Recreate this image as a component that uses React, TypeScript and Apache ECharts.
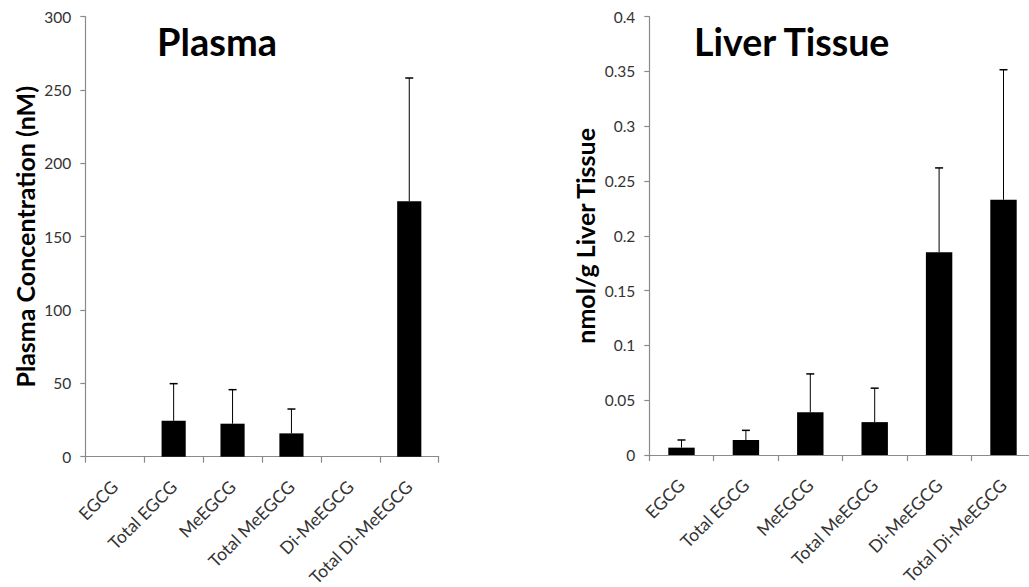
import React, { useEffect, useRef } from "react";
import * as echarts from "echarts";

const categories = ["EGCG", "Total EGCG", "MeEGCG", "Total MeEGCG", "Di-MeEGCG", "Total Di-MeEGCG"];
const plasmaMean = [0, 24.5, 22.5, 15.9, 0, 174.1];
const plasmaSD = [0, 25.3, 23.2, 16.6, 0, 84.1];
const liverMean = [0.0067, 0.0137, 0.039, 0.03, 0.185, 0.233];
const liverSD = [0.007, 0.0088, 0.035, 0.031, 0.077, 0.1186];
const plasmaTicks = { min: 0, max: 300, interval: 50 };
const liverTicks = { min: 0, max: 0.4, interval: 0.05 };

const FONT = "Lato";
const AXIS_COLOR = "#8a8a8a";
const LABEL_COLOR = "#333333";

function errRender(params: any, api: any) {
  const idx = api.value(0);
  const mean = api.value(1);
  const sd = api.value(2);
  if (!sd) return null;
  const base = api.coord([idx, mean]);
  const top = api.coord([idx, mean + sd]);
  return {
    type: "group",
    children: [
      { type: "line", shape: { x1: base[0], y1: base[1], x2: top[0], y2: top[1] }, style: { stroke: "#000", lineWidth: 1 } },
      { type: "line", shape: { x1: top[0] - 4, y1: top[1], x2: top[0] + 4, y2: top[1] }, style: { stroke: "#000", lineWidth: 1.5 } },
    ],
  };
}

export default function App() {
  const ref = useRef<HTMLDivElement>(null);
  useEffect(() => {
    document.body.style.margin = "0";
    const chart = echarts.init(ref.current!, null, { renderer: "svg" });
    const xAxisBase = (gridIndex: number) => ({
      type: "category",
      gridIndex,
      data: categories,
      boundaryGap: true,
      axisLine: { lineStyle: { color: AXIS_COLOR, width: 1.2 } },
      axisTick: { show: true, length: 6, alignWithLabel: false, lineStyle: { color: AXIS_COLOR, width: 1.2 } },
      axisLabel: { rotate: 45, interval: 0, margin: 27, fontFamily: FONT, fontSize: 17.5, color: LABEL_COLOR },
      splitLine: { show: false },
    });
    const yAxisBase = (gridIndex: number, ticks: any, name: string, nameGap: number, nameSize: number) => ({
      type: "value",
      gridIndex,
      ...ticks,
      name,
      nameLocation: "middle",
      nameGap,
      nameTextStyle: { fontFamily: FONT, fontWeight: "bold", fontSize: nameSize, color: "#000" },
      axisLine: { show: true, lineStyle: { color: AXIS_COLOR, width: 1.2 } },
      axisTick: { show: true, length: 5, lineStyle: { color: AXIS_COLOR, width: 1.2 } },
      axisLabel: { margin: 14, fontFamily: FONT, fontSize: 15.5, color: LABEL_COLOR },
      splitLine: { show: false },
    });
    chart.setOption({
      animation: false,
      backgroundColor: "#fff",
      title: [
        { text: "Plasma", left: 152, top: 17, textStyle: { fontFamily: FONT, fontWeight: "bold", fontSize: 38, color: "#000" } },
        { text: "Liver Tissue", left: 689, top: 17, textStyle: { fontFamily: FONT, fontWeight: "bold", fontSize: 37.5, color: "#000" } },
      ],
      grid: [
        { left: 85.3, right: 590.3, top: 16.7, bottom: 130.3, outerBoundsMode: "none", containLabel: false },
        { left: 649.3, right: -6.7, top: 16.7, bottom: 132, outerBoundsMode: "none", containLabel: false },
      ],
      xAxis: [xAxisBase(0), xAxisBase(1)],
      yAxis: [
        yAxisBase(0, plasmaTicks, "Plasma Concentration (nM)", 48, 25),
        yAxisBase(1, liverTicks, "nmol/g Liver Tissue", 52, 25),
      ],
      series: [
        { type: "bar", xAxisIndex: 0, yAxisIndex: 0, data: plasmaMean, barWidth: "41%", itemStyle: { color: "#000" } },
        { type: "bar", xAxisIndex: 1, yAxisIndex: 1, data: liverMean, barWidth: "41%", itemStyle: { color: "#000" } },
        {
          type: "custom", xAxisIndex: 0, yAxisIndex: 0, renderItem: errRender, z: 5,
          encode: { x: 0, y: 1 },
          data: categories.map((_, i) => [i, plasmaMean[i], plasmaSD[i]]),
        },
        {
          type: "custom", xAxisIndex: 1, yAxisIndex: 1, renderItem: errRender, z: 5,
          encode: { x: 0, y: 1 },
          data: categories.map((_, i) => [i, liverMean[i], liverSD[i]]),
        },
      ],
    });
    return () => chart.dispose();
  }, []);
  return <div ref={ref} style={{ width: 1029, height: 587 }} />;
}
